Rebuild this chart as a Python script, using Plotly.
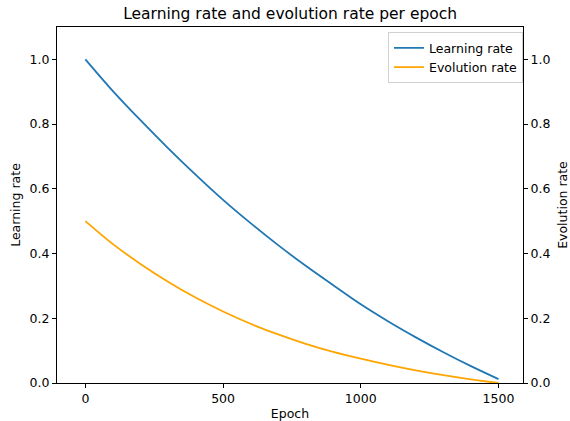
import plotly.graph_objects as go

epochs = [0, 100, 200, 300, 400, 500, 600, 700, 800, 900, 1000, 1100, 1200, 1300, 1400, 1500]
learning_rate = [1.0, 0.902, 0.812, 0.726, 0.644, 0.566, 0.494, 0.426, 0.362, 0.302, 0.243, 0.190, 0.141, 0.095, 0.052, 0.012]
evolution_rate = [0.5, 0.429, 0.368, 0.313, 0.264, 0.221, 0.183, 0.150, 0.121, 0.096, 0.075, 0.056, 0.039, 0.024, 0.011, 0.0]

x_ticks = [0, 500, 1000, 1500]
y_ticks = [0.0, 0.2, 0.4, 0.6, 0.8, 1.0]

FONT = "DejaVu Sans"
AX = "#000000"

fig = go.Figure()
fig.add_trace(go.Scatter(x=epochs, y=learning_rate, mode="lines", name="Learning rate",
                         line=dict(color="#1f77b4", width=1.8, shape="spline"), yaxis="y"))
fig.add_trace(go.Scatter(x=epochs, y=evolution_rate, mode="lines", name="Evolution rate",
                         line=dict(color="#FFA500", width=1.8, shape="spline"), yaxis="y2"))

fig.update_layout(
    width=570, height=421,
    margin=dict(l=57, r=47, t=27, b=38),
    paper_bgcolor="white", plot_bgcolor="white",
    font=dict(family=FONT, size=12, color="#000"),
    title=dict(text="Learning rate and evolution rate per epoch", x=0.509, xanchor="center",
               y=0.967, yanchor="middle", font=dict(size=15.5, family=FONT, color="#000")),
    xaxis=dict(range=[-103, 1589], tickvals=x_ticks, ticks="outside", ticklen=4, tickcolor=AX,
               showline=True, linecolor=AX, linewidth=1, mirror=True, showgrid=False, zeroline=False,
               automargin=False,
               title=dict(text="Epoch", standoff=4, font=dict(size=12.5)), tickfont=dict(size=12.5)),
    yaxis=dict(range=[0, 1.1], tickvals=y_ticks, tickformat=".1f", ticks="outside", ticklen=4,
               tickcolor=AX, showline=True, linecolor=AX, linewidth=1, showgrid=False, zeroline=False,
               automargin=False,
               title=dict(text="Learning rate", standoff=6, font=dict(size=12.5)), tickfont=dict(size=12.5)),
    yaxis2=dict(range=[0, 1.1], tickvals=y_ticks, tickformat=".1f", ticks="outside", ticklen=4,
                tickcolor=AX, showline=True, linecolor=AX, linewidth=1, showgrid=False, zeroline=False,
                overlaying="y", side="right", automargin=False,
                title=dict(text="Evolution rate", standoff=11, font=dict(size=12.5)), tickfont=dict(size=12.5)),
    legend=dict(x=1.0, y=0.985, xanchor="right", yanchor="top", bgcolor="rgba(255,255,255,0.8)",
                bordercolor="#d0d0d0", borderwidth=1, font=dict(size=12.5), tracegroupgap=0),
    showlegend=True,
)

fig.write_html("out.html")
